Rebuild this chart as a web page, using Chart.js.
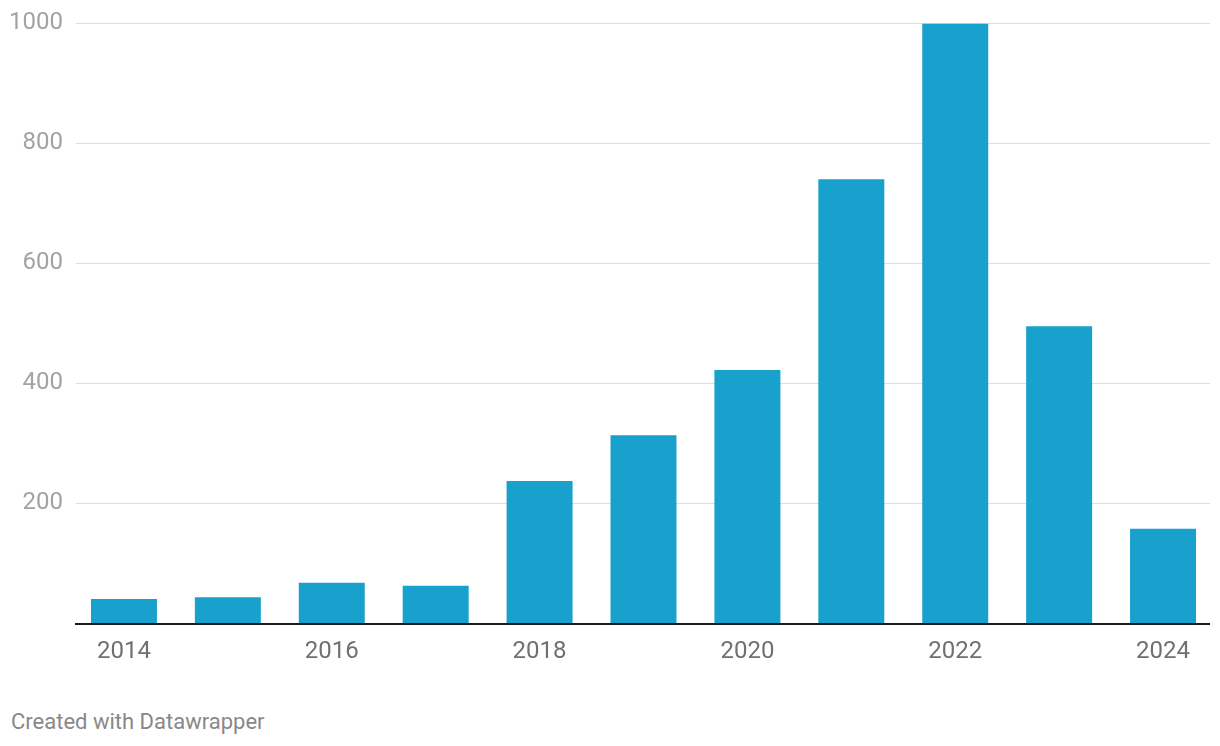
<!DOCTYPE html>
<html>
<head>
<meta charset="utf-8">
<script src="https://cdn.jsdelivr.net/npm/chart.js@4"></script>
<style>
  html, body { margin: 0; padding: 0; background: #fff; }
  #wrap { position: relative; width: 1220px; height: 746px; font-family: Roboto, sans-serif; }
  #box { position: absolute; left: 0; top: 0; width: 1220px; height: 680px; }
  #credit { position: absolute; left: 11px; top: 709px; font-size: 22px; line-height: 26px; color: #888; }
</style>
</head>
<body>
<div id="wrap">
  <div id="box"><canvas id="chart"></canvas></div>
  <div id="credit">Created with Datawrapper</div>
</div>
<script>
// years and values
const years = ['2014', '2015', '2016', '2017', '2018', '2019', '2020', '2021', '2022', '2023', '2024'];
const counts = [40, 43, 67, 62, 237, 313, 422, 740, 1000, 495, 157];
const yTicks = [200, 400, 600, 800, 1000];

// gridlines + black baseline, drawn slightly inset like datawrapper
const gridPlugin = {
  id: 'dwGrid',
  beforeDatasetsDraw(chart) {
    const { ctx, chartArea, scales } = chart;
    const left = chartArea.left + 4;
    const right = chartArea.right - 5;
    ctx.save();
    ctx.strokeStyle = '#dedede';
    ctx.lineWidth = 1;
    yTicks.forEach((v) => {
      const y = Math.round(scales.y.getPixelForValue(v)) + 0.5;
      ctx.beginPath();
      ctx.moveTo(left, y);
      ctx.lineTo(right, y);
      ctx.stroke();
    });
    ctx.restore();
  },
  afterDatasetsDraw(chart) {
    const { ctx, chartArea, scales } = chart;
    const y = scales.y.getPixelForValue(0) + 1;
    ctx.save();
    ctx.strokeStyle = '#1a1a1a';
    ctx.lineWidth = 2;
    ctx.beginPath();
    ctx.moveTo(chartArea.left + 3, y);
    ctx.lineTo(chartArea.right - 5, y);
    ctx.stroke();
    ctx.restore();
  }
};

new Chart(document.getElementById('chart'), {
  type: 'bar',
  data: {
    labels: years,
    datasets: [{
      data: counts,
      backgroundColor: '#19a1cd',
      borderWidth: 0,
      categoryPercentage: 1,
      barPercentage: 0.635
    }]
  },
  options: {
    responsive: true,
    maintainAspectRatio: false,
    animation: false,
    layout: { padding: { top: 23, right: 5, left: 0, bottom: 0 } },
    plugins: {
      legend: { display: false },
      tooltip: { enabled: false }
    },
    scales: {
      x: {
        grid: { display: false, drawTicks: false },
        border: { display: false },
        ticks: {
          autoSkip: false,
          maxRotation: 0,
          padding: 15,
          color: '#707070',
          font: { family: 'Roboto', size: 24 },
          callback: function (val, i) { return i % 2 === 0 ? this.getLabelForValue(val) : ''; }
        },
        afterFit: (scale) => { scale.height = 57; }
      },
      y: {
        min: 0,
        max: 1000,
        grid: { display: false, drawTicks: false },
        border: { display: false },
        afterBuildTicks: (scale) => { scale.ticks = yTicks.map((v) => ({ value: v })); },
        ticks: {
          padding: 9,
          color: '#a3a3a3',
          font: { family: 'Roboto', size: 24 },
          callback: (v) => String(v)
        },
        afterFit: (scale) => { scale.width = 72; }
      }
    }
  },
  plugins: [gridPlugin]
});
</script>
</body>
</html>
